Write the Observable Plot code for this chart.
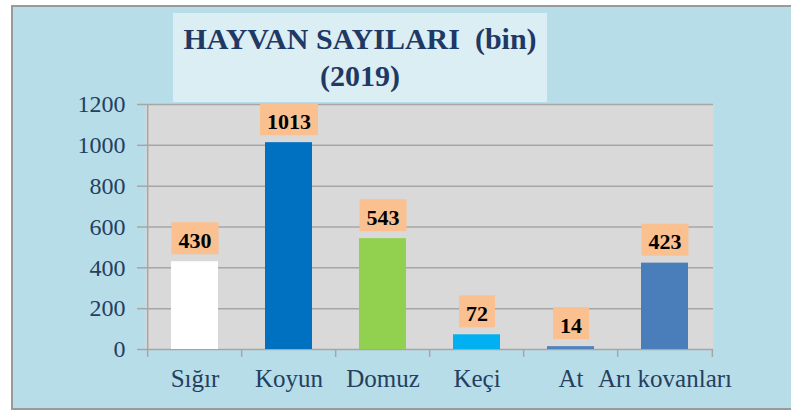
<!DOCTYPE html>
<html>
<head>
<meta charset="utf-8">
<script src="https://cdn.jsdelivr.net/npm/d3@7"></script>
<script src="https://cdn.jsdelivr.net/npm/@observablehq/plot@0.6"></script>
<style>
  html, body { margin: 0; padding: 0; background: #fff; }
  #wrap { position: relative; width: 791px; height: 411px; overflow: hidden; background: #fff; }
  #bg { position: absolute; left: 11px; top: 5px; width: 800px; height: 401px; border: 2px solid #9a9a9a; background: #b7dde8; }
  #title { position: absolute; left: 173px; top: 13px; width: 374px; height: 89px; background: #dbeef4;
           font-family: "Liberation Serif", "Times New Roman", serif; font-weight: bold; font-size: 30px;
           line-height: 37px; color: #1f3864; text-align: center; white-space: pre; box-sizing: border-box; padding-top: 7px; }
  #chart { position: absolute; left: 0; top: 0; }
</style>
</head>
<body>
<div id="wrap">
  <div id="bg"></div>
  <div id="title">HAYVAN SAYILARI  (bin)
(2019)</div>
  <div id="chart"></div>
</div>
<script>
const categories = ["Sığır", "Koyun", "Domuz", "Keçi", "At", "Arı kovanları"];
const values = [430, 1013, 543, 72, 14, 423];
const barColors = ["#ffffff", "#0070c0", "#92d050", "#00b0f0", "#4f81bd", "#4a7ebb"];
const yTicks = [0, 200, 400, 600, 800, 1000, 1200];

const data = categories.map((name, i) => ({name, value: values[i], color: barColors[i]}));

const W = 791, H = 411;
const mL = 145, mR = 78, mT = 104, mB = 62;
const step = (W - mL - mR) / categories.length;
const gridColor = "#a6a6a6";
const textColor = "#243f60";

const svg = Plot.plot({
  width: W, height: H,
  marginLeft: mL, marginRight: mR, marginTop: mT, marginBottom: mB,
  style: {background: "transparent", fontFamily: "'Liberation Serif', 'Times New Roman', serif", overflow: "visible"},
  x: {type: "band", domain: categories, padding: 0.5, paddingOuter: 0.25, axis: null, label: null},
  y: {domain: [0, 1200], axis: null, label: null},
  color: {type: "identity"},
  marks: [
    Plot.frame({fill: "#d9d9d9", stroke: null}),
    Plot.gridY(yTicks, {stroke: gridColor, strokeOpacity: 1, strokeWidth: 1.5}),
    Plot.ruleX(data.slice(0, 1), {x: "name", dx: -step / 2, y1: 0, y2: 1200, stroke: gridColor, strokeWidth: 1.5}),
    Plot.axisY({ticks: yTicks, tickFormat: d => String(d), label: null, tickSize: 8, tickPadding: 12,
                stroke: gridColor, strokeWidth: 1.5, fill: textColor, fontSize: 24}),
    Plot.axisX({tickSize: 8, tickFormat: () => "", label: null, dx: -step / 2, stroke: gridColor, strokeWidth: 1.5}),
    Plot.axisX({ticks: categories.slice(-1), tickSize: 8, tickFormat: () => "", label: null, dx: step / 2, stroke: gridColor, strokeWidth: 1.5}),
    Plot.axisX({tickSize: 0, tickPadding: 20, label: null, fill: textColor, fontSize: 25}),
    Plot.barY(data, {x: "name", y: "value", fill: "color"}),
    Plot.text(data, {x: "name", y: "value", text: d => String(d.value), dy: -21, lineAnchor: "middle",
                     fontWeight: "bold", fontSize: 22, fill: "#000"})
  ]
});
document.getElementById("chart").append(svg);

// orange label boxes behind the value labels
const padX = 7, boxH = 32;
svg.querySelectorAll('g[aria-label="text"] text').forEach(t => {
  const b = t.getBBox();
  const r = document.createElementNS("http://www.w3.org/2000/svg", "rect");
  r.setAttribute("x", b.x - padX);
  r.setAttribute("width", b.width + 2 * padX);
  r.setAttribute("y", b.y + b.height / 2 - boxH / 2 - 2);
  r.setAttribute("height", boxH);
  const tr = t.getAttribute("transform");
  if (tr) r.setAttribute("transform", tr);
  r.setAttribute("fill", "#fac090");
  t.parentNode.insertBefore(r, t);
});
</script>
</body>
</html>
